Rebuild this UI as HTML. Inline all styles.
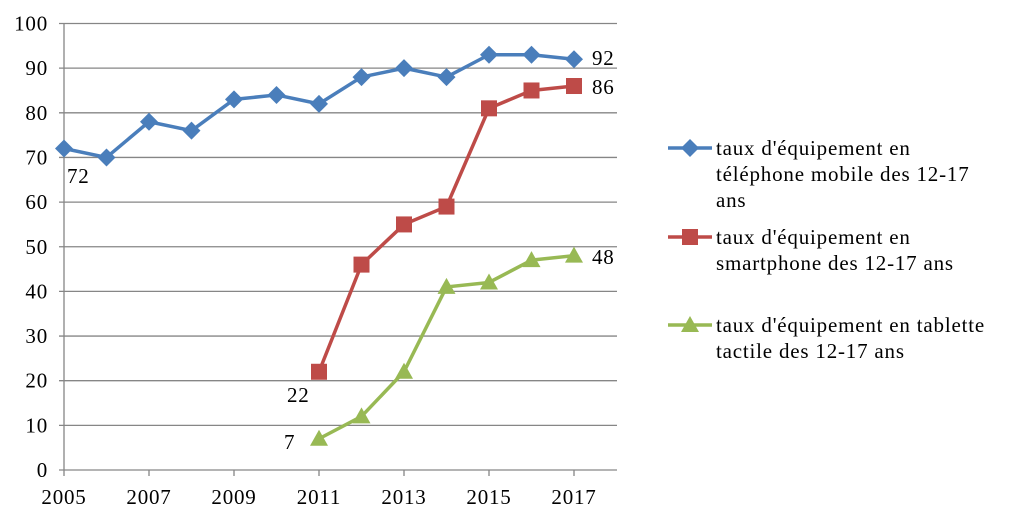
<!DOCTYPE html>
<html><head><meta charset="utf-8"><style>
body{margin:0;background:#fff;width:1009px;height:524px;overflow:hidden}
svg text{font-family:"Liberation Serif",serif;font-size:21px;letter-spacing:0.8px;fill:#000}
</style></head><body>
<svg id="c" width="1009" height="524"></svg>
<script>
const years=[2005,2006,2007,2008,2009,2010,2011,2012,2013,2014,2015,2016,2017];
const mobileYears=years;
const mobile=[72,70,78,76,83,84,82,88,90,88,93,93,92];
const smartYears=[2011,2012,2013,2014,2015,2016,2017];
const smart=[22,46,55,59,81,85,86];
const tabYears=[2011,2012,2013,2014,2015,2016,2017];
const tablet=[7,12,22,41,42,47,48];
const yTicks=[0,10,20,30,40,50,60,70,80,90,100];
const xTicks=[2005,2007,2009,2011,2013,2015,2017];

const svg=document.getElementById('c');const NS='http://www.w3.org/2000/svg';
const X=v=>64+(v-2005)*42.5, Y=v=>470-v*4.465;
function mk(t,a,p){const e=document.createElementNS(NS,t);for(const k in a)e.setAttribute(k,a[k]);(p||svg).appendChild(e);return e;}
yTicks.forEach(v=>{
 const l=mk('line',{x1:59,x2:617,y1:Y(v),y2:Y(v),stroke:'#868686','stroke-width':1.3});
 
 
 const t=mk('text',{x:48,y:Y(v)+7,'text-anchor':'end'});t.textContent=v;
 
 
});
const ax=mk('line',{x1:64,x2:64,y1:Y(100),y2:470,stroke:'#868686','stroke-width':1.3});


xTicks.forEach(v=>{
 mk('line',{x1:X(v),x2:X(v),y1:470,y2:476,stroke:'#868686','stroke-width':1.3});
 const t=mk('text',{x:X(v),y:504,'text-anchor':'middle'});t.textContent=v;
 
 
});
function marker(g,type,x,y,c){
 if(type==='d')mk('polygon',{points:`${x},${y-9} ${x+9},${y} ${x},${y+9} ${x-9},${y}`,fill:c},g);
 else if(type==='s')mk('rect',{x:x-8,y:y-8,width:16,height:16,fill:c},g);
 else mk('polygon',{points:`${x},${y-9} ${x+9},${y+7} ${x-9},${y+7}`,fill:c},g);
}
function series(name,xs,vs,c,type){
 const g=mk('g',{});
 mk('polyline',{points:xs.map((x,i)=>X(x)+','+Y(vs[i])).join(' '),fill:'none',stroke:c,'stroke-width':3.5,'stroke-linejoin':'round'},g);
 xs.forEach((x,i)=>marker(g,type,X(x),Y(vs[i]),c));
}
series('series-mobile',mobileYears,mobile,'#4a7ebb','d');
series('series-smartphone',smartYears,smart,'#be4b48','s');
series('series-tablet',tabYears,tablet,'#98b954','t');
function lab(txt,x,y){const t=mk('text',{x:x,y:y});t.textContent=txt;
 
 }
lab(mobile[0],67,183);lab(mobile[12],592,65);lab(smart[6],592,94);
lab(smart[0],287,402);lab(tablet[0],284,449);lab(tablet[6],592,264);
const leg=[['#4a7ebb','d',148,["taux d'équipement en","téléphone mobile des 12-17","ans"],'legend-mobile'],
['#be4b48','s',237,["taux d'équipement en","smartphone des 12-17 ans"],'legend-smartphone'],
['#98b954','t',325,["taux d'équipement en tablette","tactile des 12-17 ans"],'legend-tablet']];
leg.forEach(([c,tp,y,lines,n])=>{
 const g=mk('g',{});
 mk('line',{x1:668,x2:712,y1:y,y2:y,stroke:c,'stroke-width':3.5},g);
 marker(g,tp,690,y,c);
 lines.forEach((s,i)=>{const t=mk('text',{x:716,y:y+7+i*26},g);t.textContent=s;});
});
</script>
</body></html>
